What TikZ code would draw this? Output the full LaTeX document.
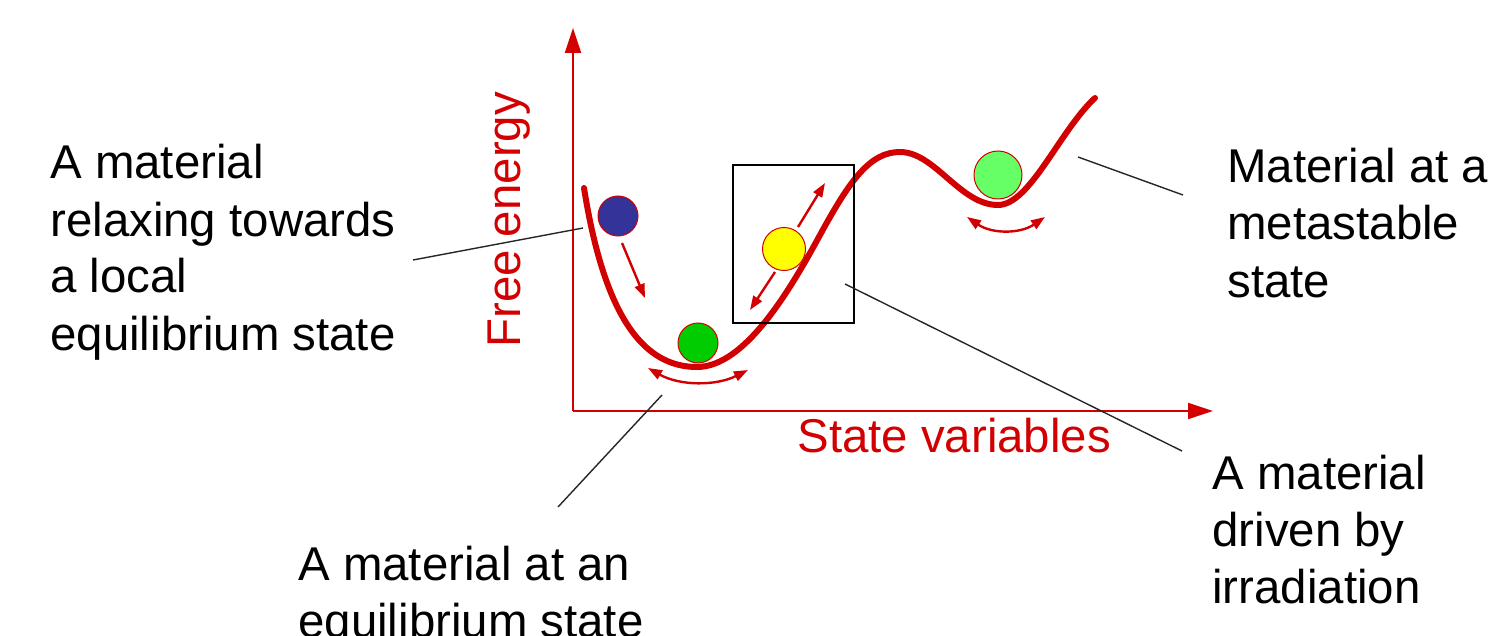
\documentclass[tikz,border=0pt]{standalone}
\usepackage{fontspec}
\setmainfont{Liberation Sans}
\usetikzlibrary{arrows.meta}
\usetikzlibrary{calc,positioning}
\definecolor{fered}{RGB}{210,0,0}
\definecolor{ballblue}{RGB}{51,51,153}
\definecolor{ballgreen}{RGB}{0,204,0}
\definecolor{ballyellow}{RGB}{255,255,0}
\definecolor{balllime}{RGB}{102,255,102}

\begin{document}
\begin{tikzpicture}[x=0.5pt, y=-0.5pt,
  lbl/.style={anchor=base west, align=left, inner sep=0pt, font=\fontsize{23.7}{28.5}\selectfont},
  ball/.style={draw=fered, line width=0.5pt, circle, inner sep=0pt},
  lead/.style={draw=black!85, line width=0.7pt},
  axis/.style={draw=fered, line width=1pt, -{Triangle[length=12.5pt,width=8pt]}},
  push/.style={draw=fered, line width=1.2pt, -{Triangle[length=7pt,width=5pt]}},
  swing/.style={draw=fered, line width=1.2pt, {Triangle[length=7pt,width=5pt]}-{Triangle[length=7pt,width=5pt]}}]
  \useasboundingbox (0,0) rectangle (1493,636);

  % axes
  \coordinate (O) at (573,411);
  \coordinate (ytip) at (573,28);
  \coordinate (xtip) at (1213,411);
  \draw[axis] (O) -- (ytip);
  \draw[axis] (O) -- (xtip);
  \node[lbl, text=fered] (xlabel) at (797,452) {State variables};
  \node[lbl, text=fered, rotate=90] (ylabel) at (520,348) {Free energy};

  % free energy curve
  \draw[fered, line width=3pt, line cap=round]
    (584,188) .. controls (605,320) and (645,367) .. (697,367)
    .. controls (745,367) and (790,290) .. (820,235)
    .. controls (850,180) and (870,152) .. (900,152)
    .. controls (935,152) and (960,205) .. (998,205)
    .. controls (1030,205) and (1060,130) .. (1095,98);

  % irradiation window
  \draw[black, line width=0.8pt] (733,165) rectangle (854,323);

  % balls
  \node[ball, fill=ballblue, minimum size=20pt] (relax) at (618,216) {};
  \node[ball, fill=ballgreen, minimum size=20pt] (equil) at (698,343) {};
  \node[ball, fill=ballyellow, minimum size=21.5pt] (irrad) at (784,249) {};
  \node[ball, fill=balllime, minimum size=24pt] (meta) at (998,175) {};

  % motions
  \draw[push] (622,243) -- (645,298);
  \draw[push] (798,227) -- (825,183);
  \draw[push] (775,272) -- (750,310);
  \draw[swing] (648,368) .. controls (680,386) and (716,386) .. (748,370);
  \draw[swing] (967,217) .. controls (992,234) and (1020,234) .. (1045,217);

  % labels (anchored at the last baseline)
  \node[lbl] (txtrelax) at (50,350) {A material\\relaxing towards\\a local\\equilibrium state};
  \node[lbl] (txtequil) at (298,637) {A material at an\\equilibrium state};
  \node[lbl] (txtirrad) at (1212,603) {A material\\driven by\\irradiation};
  \node[lbl] (txtmeta) at (1227,297) {Material at a\\metastable\\state};

  % leader lines
  \coordinate (r1) at (413,260);  \coordinate (r2) at (583,228);
  \coordinate (e1) at (558,507);  \coordinate (e2) at (662,395);
  \coordinate (i1) at (845,284);  \coordinate (i2) at (1182,451);
  \coordinate (m1) at (1078,157); \coordinate (m2) at (1183,195);
  \draw[lead] (r1) -- (r2);
  \draw[lead] (e1) -- (e2);
  \draw[lead] (i1) -- (i2);
  \draw[lead] (m1) -- (m2);
\end{tikzpicture}
\end{document}
